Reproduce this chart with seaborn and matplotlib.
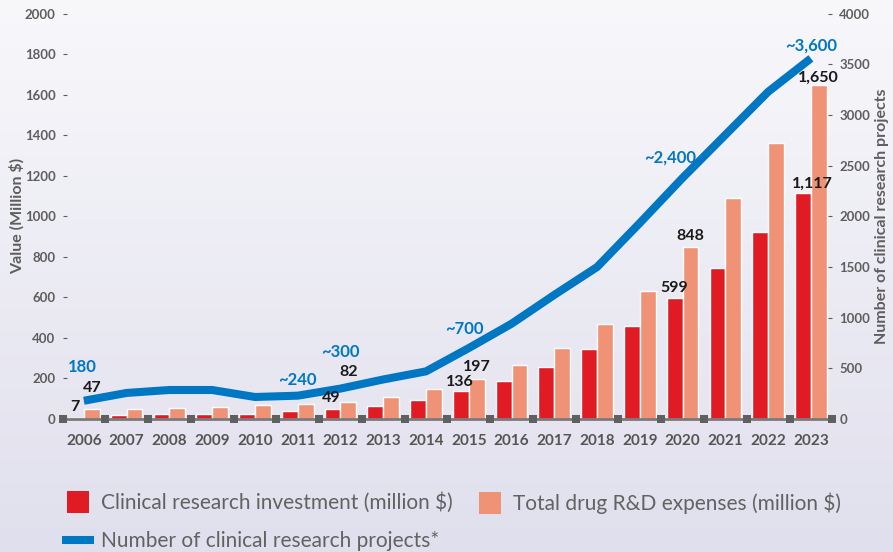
import numpy as np
import pandas as pd
import matplotlib
matplotlib.use("Agg")
import matplotlib.pyplot as plt
import seaborn as sns
from matplotlib.lines import Line2D
from matplotlib.colors import LinearSegmentedColormap

years = ["2006", "2007", "2008", "2009", "2010", "2011", "2012", "2013", "2014",
         "2015", "2016", "2017", "2018", "2019", "2020", "2021", "2022", "2023"]
clinical = [7, 20, 25, 25, 25, 40, 49, 65, 95, 136, 188, 257, 346, 459, 599, 746, 923, 1117]
total_rd = [47, 50, 55, 60, 70, 75, 82, 110, 148, 197, 267, 351, 469, 632, 848, 1091, 1363, 1650]
projects = [180, 257, 286, 286, 217, 230, 300, 390, 470, 700, 940, 1225, 1500, 1935, 2380, 2805, 3230, 3560]

left_ticks = [0, 200, 400, 600, 800, 1000, 1200, 1400, 1600, 1800, 2000]
right_ticks = [0, 500, 1000, 1500, 2000, 2500, 3000, 3500, 4000]

clin_labels = {0: "7", 6: "49", 9: "136", 14: "599", 17: "1,117"}
tot_labels = {0: "47", 6: "82", 9: "197", 14: "848", 17: "1,650"}
line_labels = {0: "180", 5: "~240", 6: "~300", 9: "~700", 14: "~2,400", 17: "~3,600"}

s1 = "Clinical research investment (million $)"
s2 = "Total drug R&D expenses (million $)"
s3 = "Number of clinical research projects*"

RED = "#e01b24"
ORANGE = "#f09276"
BLUE = "#0077c2"
GREY = "#5e5e5e"

sns.set_style("white")
plt.rcParams["font.family"] = ["Lato", "DejaVu Sans"]

df = pd.DataFrame({
    "year": years * 2,
    "value": clinical + total_rd,
    "series": [s1] * len(years) + [s2] * len(years),
})

fig = plt.figure(figsize=(8.93, 5.52), dpi=100)

# background gradient
bg = fig.add_axes([0, 0, 1, 1], zorder=-10)
grad = np.linspace(0, 1, 256).reshape(-1, 1)
cmap = LinearSegmentedColormap.from_list("bg", ["#f8f8fb", "#e0dfed"])
bg.imshow(grad, aspect="auto", cmap=cmap, extent=[0, 1, 0, 1])
bg.axis("off")

ax = fig.add_axes([0.070, 0.241, 0.862, 0.734])
ax.set_facecolor("none")
sns.barplot(data=df, x="year", y="value", hue="series", palette=[RED, ORANGE],
            width=0.74, gap=0, ax=ax, legend=False, saturation=1, zorder=2)
n = len(years)
ax.set_xlim(-0.5, n - 0.5)
ax.set_ylim(0, 2000)
ax.set_yticks(left_ticks)
ax.set_yticklabels([str(t) for t in left_ticks])
ax.set_xlabel("")
ax.set_ylabel("Value (Million $)", fontsize=11.5, fontweight="bold", color=GREY)
ax.yaxis.set_label_coords(-0.049, 0.5)
for sp in ["top", "right", "left"]:
    ax.spines[sp].set_visible(False)
ax.spines["bottom"].set_color("#7a7a7a")
ax.spines["bottom"].set_linewidth(2.0)
ax.tick_params(axis="y", left=True, direction="in", length=3, width=0.8, color=GREY,
               labelcolor=GREY, labelsize=9.5, pad=5)
ax.tick_params(axis="x", which="major", bottom=False, length=0, labelsize=11,
               labelcolor="#555555", pad=11)
for lab in ax.get_yticklabels() + ax.get_xticklabels():
    lab.set_fontweight("bold")

# grey square markers on the baseline between year groups
ax.plot(np.arange(n + 1) - 0.5, np.zeros(n + 1), linestyle="none", marker="s",
        markersize=6, color="#606060", markeredgewidth=0, clip_on=False, zorder=5)

ax2 = ax.twinx()
ax2.set_position(ax.get_position())
sns.lineplot(x=np.arange(n), y=projects, ax=ax2, color=BLUE, linewidth=5.8,
             solid_joinstyle="round", solid_capstyle="butt", zorder=4)
ax2.set_ylim(0, 4000)
ax2.set_yticks(right_ticks)
ax2.set_yticklabels([str(t) for t in right_ticks])
ax2.set_xlim(-0.5, n - 0.5)
for sp in ["top", "right", "left", "bottom"]:
    ax2.spines[sp].set_visible(False)
ax2.tick_params(axis="y", right=True, direction="in", length=3, width=0.8, color=GREY,
                labelcolor=GREY, labelsize=9.5, pad=5)
for lab in ax2.get_yticklabels():
    lab.set_fontweight("bold")
ax2.set_ylabel("Number of clinical research projects", fontsize=11.5, fontweight="bold",
               color=GREY)
ax2.yaxis.set_label_coords(1.056, 0.5)

# bar value labels (drawn above the line)
clin_off = {0: (-1, 7.6), 6: (-1, 8), 9: (-1, 7), 14: (0, 7), 17: (7, 6.5)}
tot_off = {0: (0, 15.5), 6: (0, 22), 9: (0, 8.6), 14: (0, 8), 17: (0, 5)}
for i, t in clin_labels.items():
    dx, dy = clin_off[i]
    ax2.annotate(t, (i - 0.185, clinical[i]), xycoords=ax.transData, xytext=(dx, dy),
                 textcoords="offset points", ha="center", va="center", fontsize=11.5,
                 fontweight="bold", color="#1a1a1a", zorder=6)
for i, t in tot_labels.items():
    dx, dy = tot_off[i]
    ax2.annotate(t, (i + 0.185, total_rd[i]), xycoords=ax.transData, xytext=(dx, dy),
                 textcoords="offset points", ha="center", va="center", fontsize=11.5,
                 fontweight="bold", color="#1a1a1a", zorder=6)

line_off = {0: (-1.4, 24.5), 5: (0, 11.5), 6: (0, 26), 9: (-3, 14), 14: (-9, 14.5), 17: (0, 9)}
for i, t in line_labels.items():
    dx, dy = line_off[i]
    ax2.annotate(t, (i, projects[i]), xytext=(dx, dy), textcoords="offset points",
                 ha="center", va="center", fontsize=12, fontweight="bold", color=BLUE, zorder=6)

# legend
h_red = Line2D([0], [0], marker="s", markersize=16.5, color=RED, linestyle="none",
               markeredgewidth=0)
h_org = Line2D([0], [0], marker="s", markersize=16.5, color=ORANGE, linestyle="none",
               markeredgewidth=0)
h_blue = Line2D([0], [0], color=BLUE, linewidth=5.8, solid_capstyle="butt")
common = dict(loc="upper left", frameon=False, labelcolor="#626262",
              handlelength=1.54, handletextpad=0.33, labelspacing=0.86,
              borderpad=0, borderaxespad=0, prop={"size": 15, "weight": "normal"})
leg1 = fig.legend([h_red, h_blue], [s1, s3], bbox_to_anchor=(0.0694, 0.108), **common)
leg2 = fig.legend([h_org], [s2], bbox_to_anchor=(0.531, 0.108), **common)

fig.savefig("out.png", dpi=100)
